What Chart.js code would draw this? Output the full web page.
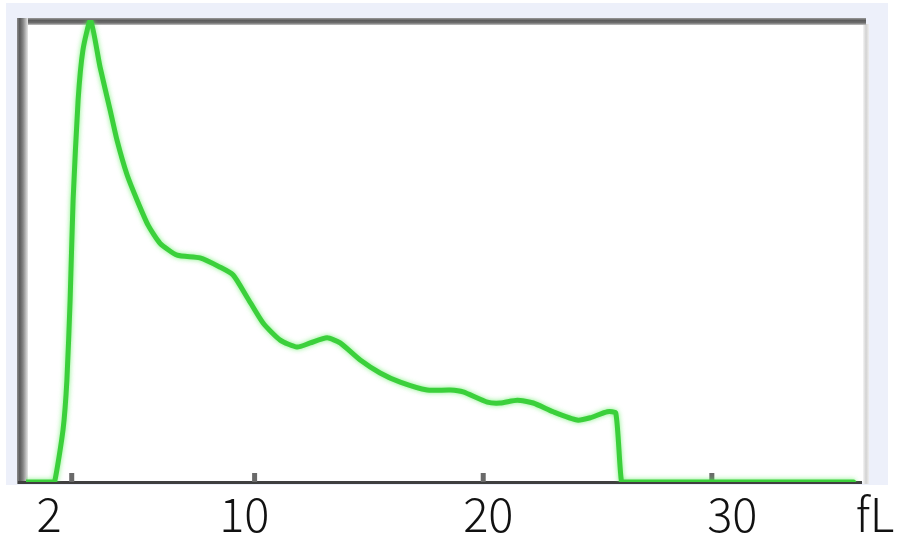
<!DOCTYPE html>
<html>
<head>
<meta charset="utf-8">
<style>
  html, body { margin: 0; padding: 0; background: #ffffff; }
  #wrap { width: 898px; height: 539px; }
</style>
<script src="https://cdn.jsdelivr.net/npm/chart.js@4/dist/chart.umd.min.js"></script>
</head>
<body>
<div id="wrap"><canvas id="histo" width="898" height="539"></canvas></div>
<script>
// Platelet volume distribution (fL) and relative count (% of peak)
const volumeFl = [0, 1.1, 1.25, 1.62, 1.79, 1.93, 2.06, 2.28, 2.49, 2.82,
  3.24, 3.68, 3.98, 4.42, 4.86, 5.34, 5.86, 6.61, 7.61,
  8.49, 9.06, 9.67, 10.37, 11.12, 11.86, 12.43, 13.17, 13.74,
  14.62, 15.49, 16.37, 17.55, 18.56, 19.12, 20.18, 20.74, 21.49,
  22.19, 23.06, 24.11, 24.68, 25.43, 25.8, 26.05, 26.3, 36.2];
const relativeCount = [0, 0, 0, 11.3, 22.1, 39.4, 61.0, 82.7, 93.5, 100,
  89.8, 80.5, 74.0, 66.5, 61.0, 55.6, 51.7, 49.1, 48.5,
  46.5, 44.8, 40.0, 34.4, 30.7, 29.2, 30.1, 31.2, 30.1,
  26.4, 23.6, 21.6, 19.9, 19.9, 19.5, 17.3, 17.1, 17.7,
  17.1, 15.2, 13.4, 13.9, 15.2, 14.9, 0, 0, 0];

// Axis tick marks and the label row under the frame
const tickValues = [2, 10, 20, 30];
const tickLabels = ['2', '10', '20', '30'];
const unitLabel = 'fL';
const unitLabelAt = 35.85;

const points = volumeFl.map((v, i) => ({ x: v, y: relativeCount[i] }));

// Frame, background panel and tick marks
const framePlugin = {
  id: 'frame',
  beforeDraw(chart) {
    const { ctx, chartArea: a } = chart;
    ctx.save();
    ctx.fillStyle = '#ffffff';
    ctx.fillRect(0, 0, chart.width, chart.height);
    // lavender panel behind the frame
    ctx.fillStyle = '#edf0fa';
    ctx.fillRect(a.left - 20, a.top - 17, (a.right + 23) - (a.left - 20), (a.bottom + 3) - (a.top - 17));
    // white plotting field
    ctx.fillStyle = '#ffffff';
    ctx.fillRect(a.left - 8, a.top - 2, a.right - (a.left - 8), a.bottom - (a.top - 2));
    // right edge: thin soft grey
    let g = ctx.createLinearGradient(a.right - 2, 0, a.right + 4, 0);
    g.addColorStop(0, '#f4f4f4');
    g.addColorStop(0.5, '#d2d2d2');
    g.addColorStop(1, '#eeeeee');
    ctx.fillStyle = g;
    ctx.fillRect(a.right - 2, a.top + 4, 6, a.bottom - a.top - 2);
    // top edge
    g = ctx.createLinearGradient(0, a.top - 2, 0, a.top + 5);
    g.addColorStop(0, '#9c9c9c');
    g.addColorStop(0.35, '#5c5c5c');
    g.addColorStop(0.7, '#6e6e6e');
    g.addColorStop(1, '#c4c4c4');
    ctx.fillStyle = g;
    ctx.fillRect(a.left - 9, a.top - 2, a.right + 1 - (a.left - 9), 7);
    // left edge
    g = ctx.createLinearGradient(a.left - 9, 0, a.left + 2, 0);
    g.addColorStop(0, '#8c8c8c');
    g.addColorStop(0.25, '#5a5a5a');
    g.addColorStop(0.55, '#858585');
    g.addColorStop(1, '#e6e6e6');
    ctx.fillStyle = g;
    ctx.fillRect(a.left - 9, a.top - 2, 11, a.bottom + 2 - (a.top - 2));
    // axis line
    ctx.fillStyle = '#3f3f3f';
    ctx.fillRect(a.left - 8, a.bottom - 1, (a.right - 3) - (a.left - 8), 3);
    // tick marks pointing up into the field
    const xs = chart.scales.x;
    ctx.fillStyle = '#6a6a6a';
    tickValues.forEach(v => {
      const px = xs.getPixelForValue(v);
      ctx.fillRect(px - 2.5, a.bottom - 9, 5, 9);
    });
    ctx.restore();
  },
  beforeDatasetsDraw(chart) {
    const ctx = chart.ctx;
    ctx.save();
    ctx.shadowColor = 'rgba(90, 235, 90, 0.75)';
    ctx.shadowBlur = 5;
  },
  afterDatasetsDraw(chart) {
    chart.ctx.restore();
  },
  afterDraw(chart) {
    const { ctx, chartArea: a } = chart;
    const ls = chart.scales.xl;
    ctx.save();
    ctx.fillStyle = '#111111';
    ctx.font = '300 47px "Noto Sans CJK JP", "Noto Sans", sans-serif';
    ctx.textAlign = 'center';
    ctx.textBaseline = 'alphabetic';
    const y = a.bottom + 50;
    tickValues.forEach((v, i) => {
      ctx.fillText(tickLabels[i], ls.getPixelForValue(v), y);
    });
    ctx.fillText(unitLabel, ls.getPixelForValue(unitLabelAt), y);
    ctx.restore();
  }
};

new Chart(document.getElementById('histo'), {
  type: 'line',
  data: {
    datasets: [{
      data: points,
      borderColor: '#3bd03b',
      borderWidth: 5,
      pointRadius: 0,
      tension: 0.2,
      fill: false,
      borderJoinStyle: 'round',
      borderCapStyle: 'round'
    }]
  },
  options: {
    responsive: false,
    animation: false,
    devicePixelRatio: 1,
    layout: { padding: { left: 26, right: 33, top: 20, bottom: 57 } },
    plugins: { legend: { display: false }, tooltip: { enabled: false } },
    scales: {
      x: { type: 'linear', min: 0, max: 36.7, display: false },
      xl: { type: 'linear', axis: 'x', position: 'bottom', min: 1.05, max: 35.44, display: false },
      y: { type: 'linear', min: 0, max: 100, display: false }
    }
  },
  plugins: [framePlugin]
});
</script>
</body>
</html>
